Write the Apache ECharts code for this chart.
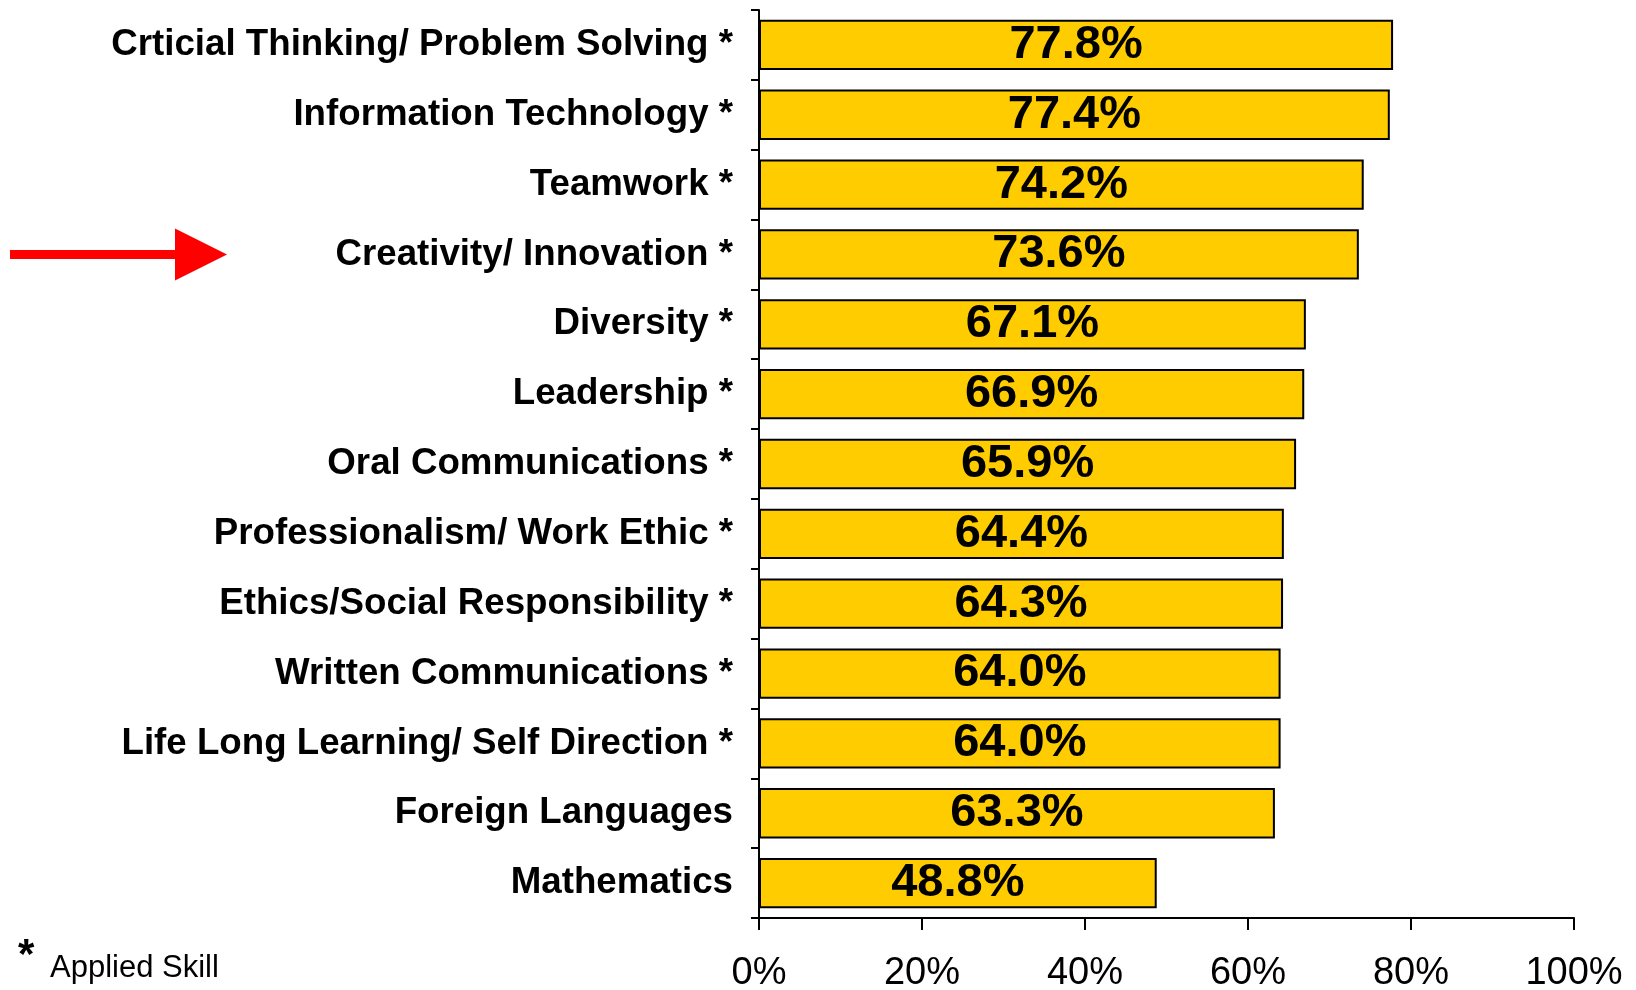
<!DOCTYPE html>
<html>
<head>
<meta charset="utf-8">
<script src="https://cdn.jsdelivr.net/npm/echarts@6/dist/echarts.min.js"></script>
<style>
  html, body { margin: 0; padding: 0; background: #ffffff; }
  #chart { width: 1636px; height: 990px; }
</style>
</head>
<body>
<div id="chart"></div>
<script>
// Skills, top to bottom, with the share of respondents rating each (percent)
const skills = [
  'Crticial Thinking/ Problem Solving *',
  'Information Technology *',
  'Teamwork *',
  'Creativity/ Innovation *',
  'Diversity *',
  'Leadership *',
  'Oral Communications *',
  'Professionalism/ Work Ethic *',
  'Ethics/Social Responsibility *',
  'Written Communications *',
  'Life Long Learning/ Self Direction *',
  'Foreign Languages',
  'Mathematics'
];
const shares = [77.8, 77.4, 74.2, 73.6, 67.1, 66.9, 65.9, 64.4, 64.3, 64.0, 64.0, 63.3, 48.8];
const highlighted = 'Creativity/ Innovation *';

const FONT = "'Liberation Sans', Arial, sans-serif";

const chart = echarts.init(document.getElementById('chart'), null, { renderer: 'canvas' });

chart.setOption({
  animation: false,
  backgroundColor: '#ffffff',
  grid: {
    left: 759, right: 62, top: 10, bottom: 72,
    containLabel: false,
    outerBoundsMode: 'none'
  },
  xAxis: {
    type: 'value',
    min: 0,
    max: 100,
    interval: 20,
    axisLine: { show: true, lineStyle: { color: '#000', width: 2 } },
    axisTick: { show: true, length: 12, lineStyle: { color: '#000', width: 2 } },
    splitLine: { show: false },
    axisLabel: {
      formatter: '{value}%',
      color: '#000',
      fontFamily: FONT,
      fontSize: 38,
      margin: 37
    }
  },
  yAxis: {
    type: 'category',
    data: skills,
    inverse: true,
    axisLine: { show: true, lineStyle: { color: '#000', width: 2 } },
    axisTick: { show: true, length: 8, alignWithLabel: false, lineStyle: { color: '#000', width: 2 } },
    axisLabel: {
      color: '#000',
      fontFamily: FONT,
      fontWeight: 'bold',
      fontSize: 36.7,
      margin: 26
    }
  },
  series: [{
    type: 'bar',
    data: shares,
    barCategoryGap: '28%',
    itemStyle: { color: '#FFCC00', borderColor: '#000', borderWidth: 2 },
    label: {
      show: true,
      position: 'inside',
      formatter: p => p.value.toFixed(1) + '%',
      color: '#000',
      fontFamily: FONT,
      fontWeight: 'bold',
      fontSize: 47
    }
  }]
});

// Red arrow pointing at the highlighted skill, plus the footnote
const rowY = chart.convertToPixel({ yAxisIndex: 0 }, highlighted);
chart.setOption({
  graphic: [
    {
      type: 'rect',
      shape: { x: 10, y: rowY - 4.5, width: 168, height: 9 },
      style: { fill: '#FF0000' }
    },
    {
      type: 'polygon',
      shape: { points: [[175, rowY - 26], [227, rowY], [175, rowY + 26]] },
      style: { fill: '#FF0000' }
    },
    {
      type: 'text',
      left: 18,
      top: 935,
      style: { text: '*', fill: '#000', font: 'bold 42px ' + FONT }
    },
    {
      type: 'text',
      left: 50,
      top: 953,
      style: { text: 'Applied Skill', fill: '#000', font: '31px ' + FONT }
    }
  ]
});
</script>
</body>
</html>
